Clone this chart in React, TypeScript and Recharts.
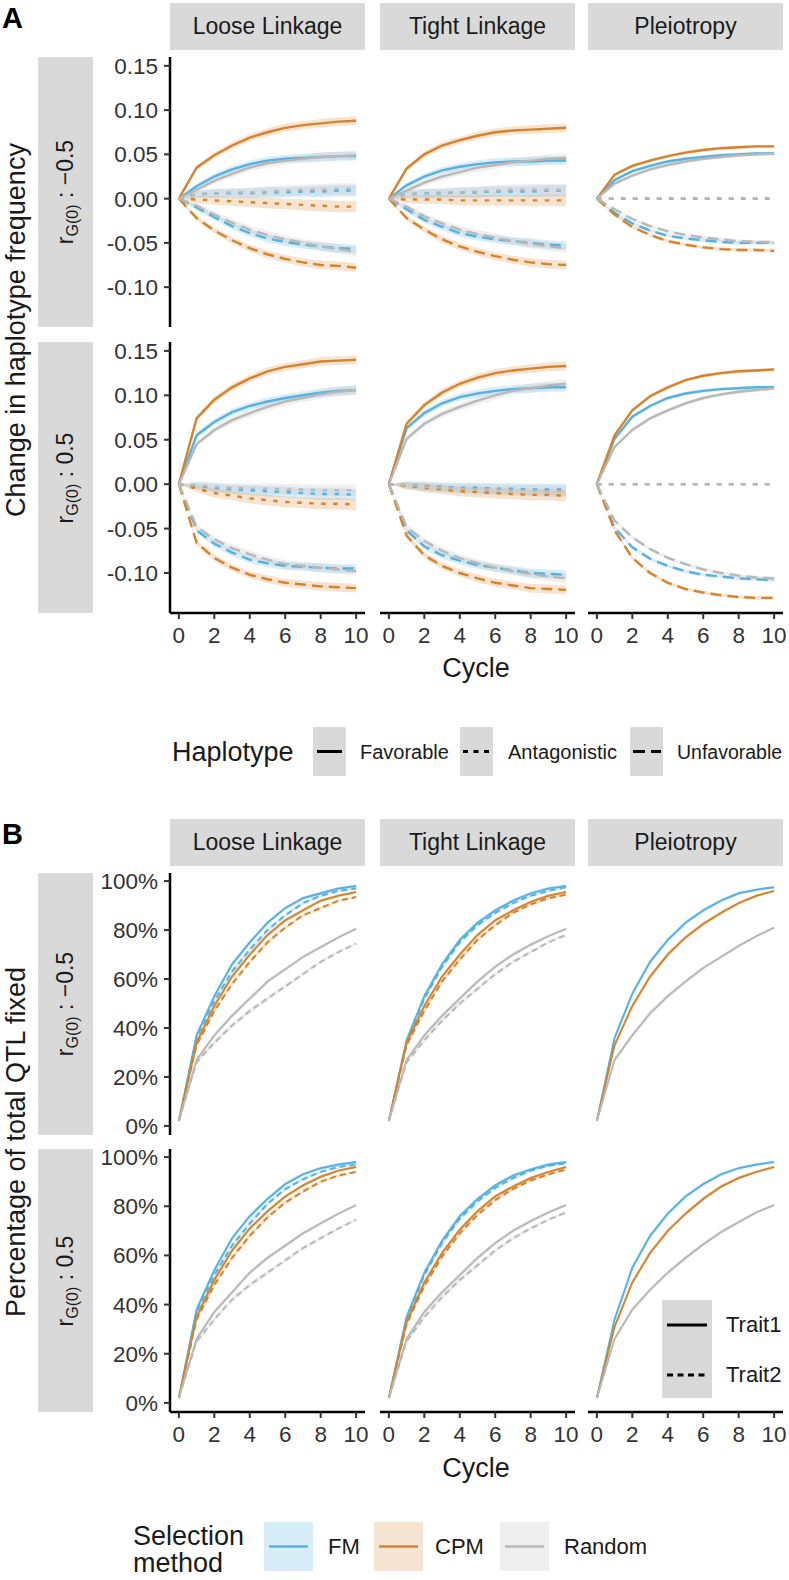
import React from 'react';
import { ComposedChart, Line, Area, XAxis, YAxis } from 'recharts';

// ---------------- DATA ----------------
const cycles = [0, 1, 2, 3, 4, 5, 6, 7, 8, 9, 10];
const xTicks = [0, 2, 4, 6, 8, 10];
const facetNames = ['Loose Linkage', 'Tight Linkage', 'Pleiotropy'];
const rowLabels = ['\u22120.5', '0.5'];
const yTicksA = [-0.1, -0.05, 0, 0.05, 0.1, 0.15];
const yTicksB = [0, 20, 40, 60, 80, 100];

// Panel A: change in haplotype frequency, r = -0.5
const aNegLooseFM = {
  fav: [0, 0.014, 0.025, 0.033, 0.039, 0.043, 0.045, 0.046, 0.047, 0.048, 0.048],
  ant: [0, 0.005, 0.006, 0.006, 0.006, 0.007, 0.007, 0.008, 0.008, 0.009, 0.009],
  unf: [0, -0.010, -0.021, -0.031, -0.039, -0.045, -0.049, -0.052, -0.054, -0.056, -0.057],
};
const aNegLooseCPM = {
  fav: [0, 0.035, 0.049, 0.060, 0.069, 0.075, 0.080, 0.083, 0.085, 0.087, 0.088],
  ant: [0, -0.001, -0.002, -0.003, -0.004, -0.005, -0.006, -0.007, -0.008, -0.009, -0.009],
  unf: [0, -0.022, -0.036, -0.047, -0.056, -0.063, -0.068, -0.072, -0.075, -0.076, -0.078],
};
const aNegLooseRandom = {
  fav: [0, 0.010, 0.020, 0.028, 0.035, 0.040, 0.043, 0.045, 0.047, 0.048, 0.049],
  ant: [0, 0.005, 0.006, 0.007, 0.007, 0.008, 0.009, 0.010, 0.010, 0.011, 0.011],
  unf: [0, -0.008, -0.018, -0.027, -0.035, -0.041, -0.046, -0.050, -0.054, -0.057, -0.060],
};
const aNegTightFM = {
  fav: [0, 0.015, 0.025, 0.032, 0.036, 0.039, 0.041, 0.042, 0.042, 0.043, 0.043],
  ant: [0, 0.005, 0.006, 0.006, 0.007, 0.007, 0.008, 0.008, 0.008, 0.009, 0.009],
  unf: [0, -0.012, -0.024, -0.032, -0.039, -0.043, -0.046, -0.048, -0.050, -0.052, -0.053],
};
const aNegTightCPM = {
  fav: [0, 0.034, 0.050, 0.060, 0.066, 0.071, 0.075, 0.077, 0.078, 0.079, 0.080],
  ant: [0, -0.001, -0.001, -0.001, -0.002, -0.002, -0.002, -0.002, -0.002, -0.002, -0.002],
  unf: [0, -0.022, -0.035, -0.046, -0.054, -0.060, -0.065, -0.069, -0.072, -0.074, -0.075],
};
const aNegTightRandom = {
  fav: [0, 0.009, 0.018, 0.025, 0.030, 0.035, 0.038, 0.041, 0.043, 0.045, 0.046],
  ant: [0, 0.005, 0.006, 0.007, 0.007, 0.008, 0.009, 0.010, 0.010, 0.010, 0.010],
  unf: [0, -0.009, -0.020, -0.028, -0.035, -0.040, -0.044, -0.048, -0.051, -0.054, -0.056],
};
const aNegPleioFM = {
  fav: [0, 0.021, 0.031, 0.037, 0.042, 0.045, 0.047, 0.049, 0.050, 0.051, 0.051],
  ant: [0, 0, 0, 0, 0, 0, 0, 0, 0, 0, 0],
  unf: [0, -0.016, -0.028, -0.036, -0.042, -0.045, -0.047, -0.049, -0.050, -0.050, -0.050],
};
const aNegPleioCPM = {
  fav: [0, 0.027, 0.037, 0.043, 0.048, 0.052, 0.055, 0.057, 0.058, 0.059, 0.059],
  ant: [0, 0, 0, 0, 0, 0, 0, 0, 0, 0, 0],
  unf: [0, -0.018, -0.032, -0.041, -0.048, -0.052, -0.055, -0.057, -0.058, -0.058, -0.059],
};
const aNegPleioRandom = {
  fav: [0, 0.017, 0.026, 0.033, 0.038, 0.042, 0.045, 0.047, 0.049, 0.050, 0.051],
  ant: [0, 0, 0, 0, 0, 0, 0, 0, 0, 0, 0],
  unf: [0, -0.012, -0.023, -0.031, -0.037, -0.041, -0.044, -0.046, -0.048, -0.049, -0.049],
};

// Panel A: r = 0.5
const aPosLooseFM = {
  fav: [0, 0.055, 0.070, 0.081, 0.088, 0.093, 0.097, 0.100, 0.103, 0.105, 0.106],
  ant: [0, -0.002, -0.004, -0.006, -0.007, -0.008, -0.009, -0.010, -0.011, -0.011, -0.012],
  unf: [0, -0.052, -0.067, -0.077, -0.085, -0.089, -0.092, -0.093, -0.094, -0.095, -0.095],
};
const aPosLooseCPM = {
  fav: [0, 0.074, 0.095, 0.109, 0.119, 0.127, 0.132, 0.135, 0.138, 0.139, 0.140],
  ant: [0, -0.005, -0.010, -0.013, -0.016, -0.018, -0.020, -0.021, -0.022, -0.022, -0.023],
  unf: [0, -0.066, -0.083, -0.094, -0.102, -0.107, -0.111, -0.113, -0.115, -0.116, -0.117],
};
const aPosLooseRandom = {
  fav: [0, 0.045, 0.061, 0.072, 0.080, 0.087, 0.093, 0.097, 0.101, 0.104, 0.106],
  ant: [0, -0.001, -0.003, -0.004, -0.005, -0.005, -0.006, -0.006, -0.007, -0.007, -0.007],
  unf: [0, -0.048, -0.062, -0.072, -0.079, -0.085, -0.090, -0.092, -0.094, -0.096, -0.098],
};
const aPosTightFM = {
  fav: [0, 0.063, 0.080, 0.091, 0.098, 0.102, 0.105, 0.107, 0.108, 0.109, 0.109],
  ant: [0, -0.001, -0.002, -0.003, -0.004, -0.004, -0.005, -0.005, -0.006, -0.006, -0.006],
  unf: [0, -0.052, -0.070, -0.080, -0.086, -0.091, -0.094, -0.097, -0.100, -0.101, -0.102],
};
const aPosTightCPM = {
  fav: [0, 0.068, 0.089, 0.103, 0.113, 0.120, 0.125, 0.128, 0.130, 0.132, 0.133],
  ant: [0, -0.002, -0.004, -0.006, -0.008, -0.009, -0.010, -0.011, -0.012, -0.012, -0.013],
  unf: [0, -0.058, -0.080, -0.092, -0.100, -0.106, -0.111, -0.114, -0.117, -0.118, -0.119],
};
const aPosTightRandom = {
  fav: [0, 0.051, 0.068, 0.079, 0.087, 0.094, 0.100, 0.105, 0.108, 0.111, 0.113],
  ant: [0, -0.001, -0.003, -0.004, -0.005, -0.006, -0.006, -0.007, -0.007, -0.008, -0.008],
  unf: [0, -0.048, -0.064, -0.075, -0.083, -0.089, -0.094, -0.098, -0.101, -0.104, -0.106],
};
const aPosPleioFM = {
  fav: [0, 0.051, 0.076, 0.088, 0.097, 0.102, 0.105, 0.107, 0.108, 0.109, 0.109],
  ant: [0, 0, 0, 0, 0, 0, 0, 0, 0, 0, 0],
  unf: [0, -0.049, -0.071, -0.084, -0.092, -0.098, -0.102, -0.104, -0.106, -0.107, -0.108],
};
const aPosPleioCPM = {
  fav: [0, 0.055, 0.083, 0.099, 0.109, 0.117, 0.122, 0.125, 0.127, 0.128, 0.129],
  ant: [0, 0, 0, 0, 0, 0, 0, 0, 0, 0, 0],
  unf: [0, -0.052, -0.083, -0.100, -0.111, -0.118, -0.122, -0.125, -0.127, -0.128, -0.128],
};
const aPosPleioRandom = {
  fav: [0, 0.042, 0.061, 0.074, 0.083, 0.091, 0.097, 0.101, 0.104, 0.106, 0.108],
  ant: [0, 0, 0, 0, 0, 0, 0, 0, 0, 0, 0],
  unf: [0, -0.041, -0.060, -0.073, -0.083, -0.090, -0.096, -0.100, -0.103, -0.105, -0.106],
};

// confidence ribbon half-widths (panel A)
const bandLinkFav = [0, 0.003, 0.0035, 0.004, 0.004, 0.0045, 0.0045, 0.0045, 0.005, 0.005, 0.005];
const bandLinkAnt = [0, 0.004, 0.005, 0.005, 0.0055, 0.006, 0.006, 0.006, 0.0065, 0.0065, 0.0065];
const bandLinkUnf = [0, 0.003, 0.0035, 0.004, 0.004, 0.0045, 0.0045, 0.0045, 0.005, 0.005, 0.005];
const bandPleio = [0, 0.0015, 0.002, 0.002, 0.002, 0.002, 0.002, 0.002, 0.002, 0.002, 0.002];
const bandZero = [0, 0, 0, 0, 0, 0, 0, 0, 0, 0, 0];

// Panel B: percentage of total QTL fixed, r = -0.5
const bNegLooseFM = { t1: [2, 37, 53, 66, 75, 83, 89, 93, 95, 97, 98], t2: [2, 36, 51, 63, 72, 80, 86, 91, 94, 96, 97] };
const bNegLooseCPM = { t1: [2, 34, 49, 61, 70, 78, 84, 88, 92, 94, 95.5], t2: [2, 33, 47, 58, 67, 75, 81, 86, 89, 92, 93.5] };
const bNegLooseRandom = { t1: [2, 27, 37, 45, 52, 59, 64, 69, 73, 77, 80.5], t2: [2, 26, 34, 41, 47, 52, 57, 62, 67, 71, 74.5] };
const bNegTightFM = { t1: [2, 35, 53, 66, 76, 83, 88, 92, 95, 97, 98], t2: [2, 34, 52, 65, 75, 82, 87, 91, 94, 96, 97.5] };
const bNegTightCPM = { t1: [2, 34, 49, 61, 70, 78, 84, 88, 91.5, 94, 95.5], t2: [2, 33, 47, 59, 68, 76, 82, 87, 90.5, 93, 94.5] };
const bNegTightRandom = { t1: [2, 27, 37, 45, 52, 59, 65, 70, 74, 77.5, 80.5], t2: [2, 26, 35, 43, 50, 56, 62, 67, 71, 75, 78] };
const bNegPleioFM = { t1: [2, 36, 54, 67, 76, 83, 88, 92, 95, 96.5, 97.5] };
const bNegPleioCPM = { t1: [2, 33, 49, 61, 70, 77, 82.5, 87, 91, 94, 96] };
const bNegPleioRandom = { t1: [2, 27, 37, 46, 53, 59, 64.5, 69, 73.5, 77.5, 81] };

// Panel B: r = 0.5
const bPosLooseFM = { t1: [2, 38, 54, 67, 76, 83, 89, 93, 95.5, 97, 98], t2: [2, 37, 52, 64, 73, 81, 87, 91, 94, 96, 97] };
const bPosLooseCPM = { t1: [2, 35, 50, 62, 71, 78, 84, 88.5, 92, 94.5, 96], t2: [2, 34, 48, 59, 68, 75.5, 81.5, 86, 90, 92.5, 94] };
const bPosLooseRandom = { t1: [2, 26, 37, 45, 53, 59, 64, 69, 73, 77, 80.5], t2: [2, 25, 34, 42, 48, 53, 58, 63, 67, 71, 74.5] };
const bPosTightFM = { t1: [2, 35, 53, 66, 76, 83, 88.5, 92.5, 95, 97, 98], t2: [2, 34, 52, 65, 75, 82, 87.5, 91.5, 94.5, 96.5, 97.5] };
const bPosTightCPM = { t1: [2, 33, 49, 61, 70.5, 78, 84, 88, 91.5, 94, 96], t2: [2, 32, 47.5, 59.5, 69, 76.5, 82.5, 87, 90.5, 93, 95] };
const bPosTightRandom = { t1: [2, 26, 37, 45, 52, 59, 65, 70, 74, 77.5, 80.5], t2: [2, 25, 35, 43, 50, 56, 62, 67, 71, 74.5, 77.5] };
const bPosPleioFM = { t1: [2, 34, 55, 68, 77, 84, 89, 93, 95.5, 97, 98] };
const bPosPleioCPM = { t1: [2, 31, 49, 61, 70, 77, 83, 88, 91.5, 94, 96] };
const bPosPleioRandom = { t1: [2, 26, 38, 46, 53, 59, 64.5, 69.5, 73.5, 77.5, 80.5] };

const bandB = [0, 1, 1, 1, 1, 0.9, 0.8, 0.8, 0.7, 0.6, 0.5];

// ---------------- STYLE ----------------
const FONT = '"Liberation Sans", Arial, Helvetica, sans-serif';
const COL: Record<string, string> = { FM: '#56B1DF', CPM: '#D4832E', Random: '#B8B8B8' };
const KEYFILL: Record<string, string> = { FM: '#d7eef9', CPM: '#f6e4d3', Random: '#efefef' };
const DASH_A: Record<string, string | undefined> = { fav: undefined, ant: '4.5 7.5', unf: '11 6' };
const DASH_B: Record<string, string | undefined> = { t1: undefined, t2: '6 4' };
const STRIP = '#d9d9d9';
const TXT = '#1a1a1a';
const TICK = '#333333';

const colLeft = [170, 380, 588];
const plotW = 195;
const rowsA = [{ top: 57, h: 270 }, { top: 342, h: 271 }];
const rowsB = [{ top: 873, h: 262 }, { top: 1149, h: 263 }];
const Y_AXIS_W = 90;
const X_AXIS_H = 46;
const RIGHT_PAD = 18;
const V_PAD = 16;
const TICK_FS = 22.5;

type Series = { key: string; values: number[]; band: number[]; color: string; dash?: string; width: number };

function Panel(props: {
  left: number; top: number; width: number; height: number;
  showY: boolean; showX: boolean; yDomain: [number, number]; yTicks: number[];
  yFmt: (v: number) => string; series: Series[];
}) {
  const { left, top, width, height, showY, showX, yDomain, yTicks, yFmt, series } = props;
  const yW = showY ? Y_AXIS_W : 0;
  const xH = showX ? X_AXIS_H : 0;
  const botPad = showX ? 0 : V_PAD;
  const data = cycles.map((c, i) => {
    const row: any = { x: c };
    series.forEach((s) => {
      row[s.key] = s.values[i];
      row[s.key + '_band'] = [s.values[i] - s.band[i], s.values[i] + s.band[i]];
    });
    return row;
  });
  const tickStyle = { fill: TICK, fontSize: TICK_FS, fontFamily: FONT };
  const cw = width + yW + RIGHT_PAD;
  const ch = V_PAD + height + xH + botPad;
  return (
    <div style={{ position: 'absolute', left: left - yW, top: top - V_PAD, width: cw, height: ch }}>
      <ComposedChart width={cw} height={ch} data={data} margin={{ top: V_PAD, right: RIGHT_PAD, bottom: botPad, left: 0 }}>
        <XAxis
          type="number"
          dataKey="x"
          domain={[-0.5, 10.5]}
          ticks={xTicks}
          interval={0}
          allowDataOverflow
          hide={!showX}
          height={X_AXIS_H}
          axisLine={{ stroke: '#000', strokeWidth: 2.5 }}
          tickLine={{ stroke: TICK, strokeWidth: 2 }}
          tickSize={6}
          tickMargin={8}
          tick={tickStyle}
        />
        <YAxis
          type="number"
          domain={yDomain}
          ticks={yTicks}
          interval={0}
          allowDataOverflow
          hide={!showY}
          width={Y_AXIS_W}
          axisLine={{ stroke: '#000', strokeWidth: 2.5 }}
          tickLine={{ stroke: TICK, strokeWidth: 2 }}
          tickSize={6}
          tickMargin={6}
          tick={tickStyle}
          tickFormatter={yFmt}
        />
        {series.map((s) => (
          <Area
            key={s.key + '_band'}
            type="linear"
            dataKey={s.key + '_band'}
            stroke="none"
            fill={s.color}
            fillOpacity={0.22}
            dot={false}
            activeDot={false}
            isAnimationActive={false}
          />
        ))}
        {series.map((s) => (
          <Line
            key={s.key}
            type="linear"
            dataKey={s.key}
            stroke={s.color}
            strokeWidth={s.width}
            strokeDasharray={s.dash}
            dot={false}
            activeDot={false}
            isAnimationActive={false}
          />
        ))}
      </ComposedChart>
    </div>
  );
}

const aPanels = [
  [
    { FM: aNegLooseFM, CPM: aNegLooseCPM, Random: aNegLooseRandom },
    { FM: aNegTightFM, CPM: aNegTightCPM, Random: aNegTightRandom },
    { FM: aNegPleioFM, CPM: aNegPleioCPM, Random: aNegPleioRandom },
  ],
  [
    { FM: aPosLooseFM, CPM: aPosLooseCPM, Random: aPosLooseRandom },
    { FM: aPosTightFM, CPM: aPosTightCPM, Random: aPosTightRandom },
    { FM: aPosPleioFM, CPM: aPosPleioCPM, Random: aPosPleioRandom },
  ],
];
const bPanels = [
  [
    { FM: bNegLooseFM, CPM: bNegLooseCPM, Random: bNegLooseRandom },
    { FM: bNegTightFM, CPM: bNegTightCPM, Random: bNegTightRandom },
    { FM: bNegPleioFM, CPM: bNegPleioCPM, Random: bNegPleioRandom },
  ],
  [
    { FM: bPosLooseFM, CPM: bPosLooseCPM, Random: bPosLooseRandom },
    { FM: bPosTightFM, CPM: bPosTightCPM, Random: bPosTightRandom },
    { FM: bPosPleioFM, CPM: bPosPleioCPM, Random: bPosPleioRandom },
  ],
];
const methods = ['FM', 'CPM', 'Random'];

function seriesA(p: any, col: number): Series[] {
  const out: Series[] = [];
  methods.forEach((m) => {
    (['fav', 'ant', 'unf'] as const).forEach((h) => {
      let band = h === 'fav' ? bandLinkFav : h === 'ant' ? bandLinkAnt : bandLinkUnf;
      if (col === 2) band = h === 'ant' ? bandZero : bandPleio;
      out.push({ key: `${m}_${h}`, values: p[m][h], band, color: COL[m], dash: DASH_A[h], width: 2.4 });
    });
  });
  return out;
}
function seriesB(p: any): Series[] {
  const out: Series[] = [];
  methods.forEach((m) => {
    (['t1', 't2'] as const).forEach((t) => {
      if (!p[m][t]) return;
      out.push({ key: `${m}_${t}`, values: p[m][t], band: bandB, color: COL[m], dash: DASH_B[t], width: 2 });
    });
  });
  return out;
}

// ---------------- HELPERS ----------------
function T(props: { x: number; y: number; size: number; children: any; center?: boolean; weight?: number; color?: string; lh?: number }) {
  const { x, y, size, children, center, weight, color } = props;
  const lh = props.lh || Math.round(size * 1.2);
  return (
    <div
      style={{
        position: 'absolute', left: x, top: y - lh / 2, lineHeight: lh + 'px', fontSize: size,
        fontWeight: weight || 400, color: color || TXT, whiteSpace: 'nowrap',
        transform: center ? 'translateX(-50%)' : undefined, fontFamily: FONT,
      }}
    >
      {children}
    </div>
  );
}
function VT(props: { cx: number; cy: number; size: number; children: any }) {
  return (
    <div
      style={{
        position: 'absolute', left: props.cx, top: props.cy, fontSize: props.size, color: TXT, whiteSpace: 'nowrap',
        transform: 'translate(-50%, -50%) rotate(-90deg)', lineHeight: '1.2', fontFamily: FONT,
      }}
    >
      {props.children}
    </div>
  );
}
function ColStrips({ top }: { top: number }) {
  return (
    <>
      {facetNames.map((n, i) => (
        <div key={n} style={{ position: 'absolute', left: colLeft[i], top, width: plotW, height: 47, background: STRIP }}>
          <div style={{ position: 'absolute', left: 0, right: 0, top: 0, lineHeight: '47px', textAlign: 'center', fontSize: 23, color: TXT, fontFamily: FONT }}>{n}</div>
        </div>
      ))}
    </>
  );
}
function RowStrip({ top, h, label }: { top: number; h: number; label: string }) {
  return (
    <div style={{ position: 'absolute', left: 38, top, width: 55, height: h, background: STRIP }}>
      <div
        style={{
          position: 'absolute', left: 27.5, top: h / 2, transform: 'translate(-50%, -50%) rotate(-90deg)',
          whiteSpace: 'nowrap', fontSize: 23, color: TXT, fontFamily: FONT, lineHeight: '28px',
        }}
      >
        r<span style={{ fontSize: 16, position: 'relative', top: 5 }}>G(0)</span> : {label}
      </div>
    </div>
  );
}
function KeyBox(props: { x: number; y: number; w: number; h: number; fill: string; stroke: string; sw: number; dash?: string; lx1: number; lx2: number; ly: number }) {
  const { x, y, w, h, fill, stroke, sw, dash, lx1, lx2, ly } = props;
  return (
    <svg style={{ position: 'absolute', left: x, top: y }} width={w} height={h}>
      <rect x={0} y={0} width={w} height={h} fill={fill} />
      <line x1={lx1} x2={lx2} y1={ly} y2={ly} stroke={stroke} strokeWidth={sw} strokeDasharray={dash} />
    </svg>
  );
}

export default function App() {
  const fmtA = (v: number) => v.toFixed(2);
  const fmtB = (v: number) => `${v}%`;
  return (
    <div style={{ position: 'absolute', left: 0, top: 0, width: 789, height: 1580, background: '#fff', overflow: 'hidden', fontFamily: FONT }}>
      {/* ---------- A ---------- */}
      <T x={2} y={18} size={29} weight={700} color="#000">A</T>
      <ColStrips top={3} />
      {rowsA.map((r, ri) => (
        <RowStrip key={'ra' + ri} top={r.top} h={r.h} label={rowLabels[ri]} />
      ))}
      <VT cx={16} cy={330} size={27}>Change in haplotype frequency</VT>
      {rowsA.map((r, ri) =>
        colLeft.map((cl, ci) => (
          <Panel
            key={`a${ri}${ci}`}
            left={cl}
            top={r.top}
            width={plotW}
            height={r.h}
            showY={ci === 0}
            showX={ri === 1}
            yDomain={[-0.145, 0.16]}
            yTicks={yTicksA}
            yFmt={fmtA}
            series={seriesA(aPanels[ri][ci], ci)}
          />
        ))
      )}
      <T x={476} y={668} size={27} center>Cycle</T>
      {/* Haplotype legend */}
      <T x={172} y={752} size={27}>Haplotype</T>
      <KeyBox x={313} y={727} w={33} h={49} fill={STRIP} stroke="#000" sw={3} lx1={4} lx2={29} ly={24.5} />
      <T x={360} y={752} size={20}>Favorable</T>
      <KeyBox x={460} y={727} w={33} h={49} fill={STRIP} stroke="#000" sw={3} dash="5 5.5" lx1={3} lx2={31} ly={24.5} />
      <T x={508} y={752} size={20}>Antagonistic</T>
      <KeyBox x={630} y={727} w={33} h={49} fill={STRIP} stroke="#000" sw={3} dash="12 6" lx1={3} lx2={31} ly={24.5} />
      <T x={677} y={752} size={19.5}>Unfavorable</T>

      {/* ---------- B ---------- */}
      <T x={2} y={834} size={29} weight={700} color="#000">B</T>
      <ColStrips top={819} />
      {rowsB.map((r, ri) => (
        <RowStrip key={'rb' + ri} top={r.top} h={r.h} label={rowLabels[ri]} />
      ))}
      <VT cx={16} cy={1142} size={27}>Percentage of total QTL fixed</VT>
      {rowsB.map((r, ri) =>
        colLeft.map((cl, ci) => (
          <Panel
            key={`b${ri}${ci}`}
            left={cl}
            top={r.top}
            width={plotW}
            height={r.h}
            showY={ci === 0}
            showX={ri === 1}
            yDomain={[-3.7, 103.3]}
            yTicks={yTicksB}
            yFmt={fmtB}
            series={seriesB(bPanels[ri][ci])}
          />
        ))
      )}
      <T x={476} y={1468} size={27} center>Cycle</T>
      {/* Trait legend */}
      <svg style={{ position: 'absolute', left: 662, top: 1300 }} width={50} height={98}>
        <rect x={0} y={0} width={50} height={98} fill={STRIP} />
        <line x1={5} x2={45} y1={25} y2={25} stroke="#000" strokeWidth={3} />
        <line x1={5} x2={45} y1={75} y2={75} stroke="#000" strokeWidth={3} strokeDasharray="6 4.5" />
      </svg>
      <T x={726} y={1325} size={22}>Trait1</T>
      <T x={726} y={1375} size={22}>Trait2</T>
      {/* Selection method legend */}
      <T x={133} y={1536} size={27} lh={28}>Selection</T>
      <T x={133} y={1563} size={27} lh={26}>method</T>
      <KeyBox x={264} y={1522} w={49} h={49} fill={KEYFILL.FM} stroke={COL.FM} sw={2.5} lx1={5} lx2={44} ly={24.5} />
      <T x={328} y={1547} size={22}>FM</T>
      <KeyBox x={374} y={1522} w={49} h={49} fill={KEYFILL.CPM} stroke={COL.CPM} sw={2.5} lx1={5} lx2={44} ly={24.5} />
      <T x={435} y={1547} size={22}>CPM</T>
      <KeyBox x={500} y={1522} w={49} h={49} fill={KEYFILL.Random} stroke={COL.Random} sw={2.5} lx1={5} lx2={44} ly={24.5} />
      <T x={564} y={1547} size={22}>Random</T>
    </div>
  );
}
